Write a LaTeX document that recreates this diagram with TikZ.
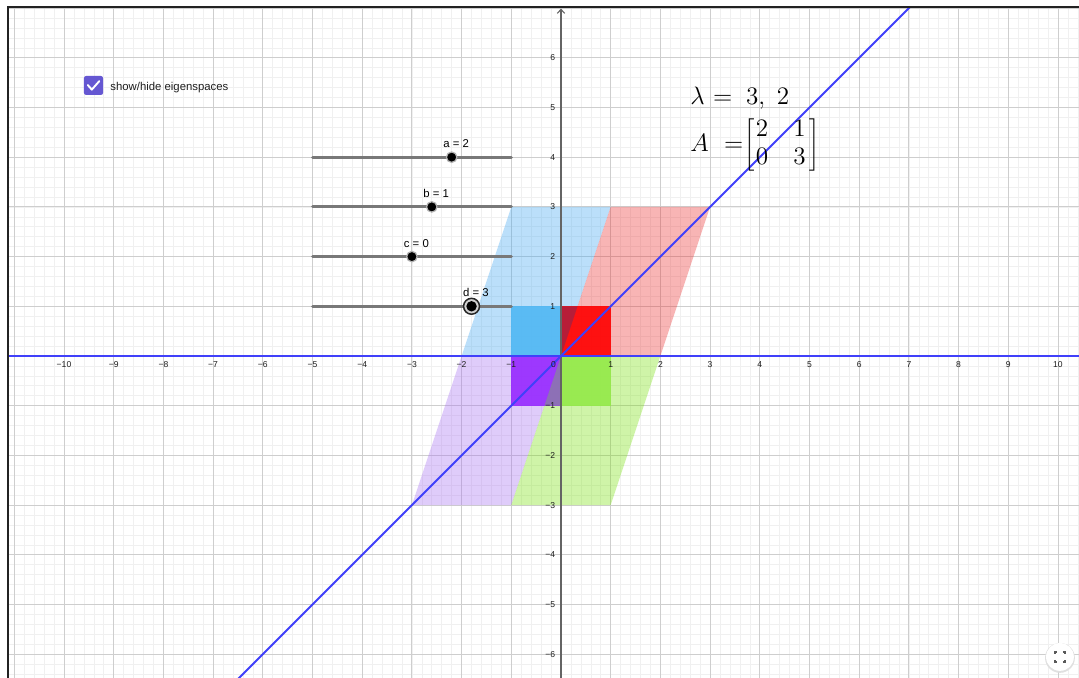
\documentclass[tikz,border=0pt]{standalone}
\usepackage{fontspec}
\newfontfamily\ggb{Liberation Sans}
\usetikzlibrary{arrows.meta}
\definecolor{gridminor}{RGB}{240,240,240}
\definecolor{gridmajor}{RGB}{206,206,206}
\definecolor{eigblue}{RGB}{64,64,250}
\definecolor{pblue}{RGB}{61,166,241}
\definecolor{pred}{RGB}{235,44,44}
\definecolor{ppurple}{RGB}{166,109,241}
\definecolor{pgreen}{RGB}{118,226,6}
\definecolor{sblue}{RGB}{80,184,244}
\definecolor{sred}{RGB}{255,0,0}
\definecolor{spurple}{RGB}{150,40,255}
\definecolor{sgreen}{RGB}{148,234,72}
\definecolor{tdark}{RGB}{176,30,60}
\definecolor{tgray}{RGB}{140,118,176}
\definecolor{slidergray}{RGB}{120,120,120}
\definecolor{ggbpurple}{RGB}{101,87,210}
\definecolor{framecol}{RGB}{34,34,34}
\definecolor{axiscol}{RGB}{100,100,100}
\definecolor{labcol}{RGB}{30,30,30}
\begin{document}
\begin{tikzpicture}[
  minorgrid/.style={draw=gridminor, line width=0.35pt},
  majorgrid/.style={draw=gridmajor, line width=0.55pt},
  para/.style={fill opacity=0.35},
  sq/.style={fill opacity=0.9},
  eig/.style={draw=eigblue, line width=1.05pt},
  yaxis/.style={draw=axiscol, line width=0.6pt, -{Straight Barb[length=2.3pt,width=4.2pt]}},
  frameline/.style={draw=framecol, line width=1.2pt},
  xtick/.style={font=\ggb\fontsize{4.9}{5.5}\selectfont, text=labcol, inner sep=0pt, anchor=center},
  ytick/.style={font=\ggb\fontsize{4.9}{5.5}\selectfont, text=labcol, inner sep=0pt, anchor=east},
  sliderline/.style={draw=slidergray, line width=1.7pt, line cap=round},
  sliderpt/.style={circle, fill=black, draw=black!30, line width=0.7pt, minimum size=0.21cm, inner sep=0pt},
  sliderlab/.style={font=\ggb\fontsize{6.5}{7}\selectfont, text=black, inner sep=0pt},
  mathlab/.style={anchor=base west, inner sep=0pt, font=\fontsize{14}{16.3}\selectfont}
]
\useasboundingbox (-11.288,-6.479) rectangle (10.423,7.163);
\fill[white] (-11.288,-6.479) rectangle (10.423,7.163);
\begin{scope}
\clip (-11.121,-6.479) rectangle (10.423,7.016);
\draw[minorgrid] (-11.2,-6.6) grid[step=0.2] (10.6,7.2);
\draw[majorgrid] (-12,-7) grid[step=1] (11,8);
% images of the unit squares
\fill[pblue,para] (0,0) -- (-2,0) -- (-1,3) -- (1,3) -- cycle;
\fill[pred,para] (0,0) -- (2,0) -- (3,3) -- (1,3) -- cycle;
\fill[ppurple,para] (0,0) -- (-2,0) -- (-3,-3) -- (-1,-3) -- cycle;
\fill[pgreen,para] (0,0) -- (2,0) -- (1,-3) -- (-1,-3) -- cycle;
% unit squares
\fill[sblue,sq] (-1,0) rectangle (0,1);
\fill[sred,sq] (0,0) rectangle (1,1);
\fill[spurple,sq] (-1,-1) rectangle (0,0);
\fill[sgreen,sq] (0,-1) rectangle (1,0);
\fill[tdark,sq] (0,0) -- (0,1) -- (1/3,1) -- cycle;
\fill[tgray,sq] (0,0) -- (0,-1) -- (-1/3,-1) -- cycle;
% axes and eigenspaces
\draw[yaxis] (0,-6.479) -- (0,6.99);
\draw[eig] (-11.2,0) -- (10.6,0);
\draw[eig] (-6.6,-6.6) -- (7.2,7.2);
\end{scope}
\draw[frameline] (-11.121,-6.479) -- (-11.121,7.016) -- (10.423,7.016);
% tick labels
\foreach \i in {1,...,10} {
  \node[xtick] at (\i,-0.17) {\i};
  \node[xtick] at (-\i,-0.17) {−\i};
}
\foreach \i in {1,...,6} {
  \node[ytick] at (-0.11,\i) {\i};
  \node[ytick] at (-0.11,-\i) {−\i};
}
\node[xtick] (orig) at (-0.15,-0.17) {0};
% checkbox
\fill[ggbpurple, rounded corners=1.2pt] (-9.598,5.252) rectangle (-9.215,5.634);
\draw[white, line width=1.1pt, line cap=round, line join=round] (-9.52,5.45) -- (-9.44,5.36) -- (-9.29,5.53);
\node[sliderlab, anchor=west, text=labcol] (cbtext) at (-9.074,5.405) {show/hide eigenspaces};
% sliders
\foreach \n/\y in {a/4,b/3,c/2,d/1} {
  \coordinate (\n L) at (-5,\y);
  \coordinate (\n R) at (-1,\y);
  \draw[sliderline] (\n L) -- (\n R);
}
\node[sliderpt] (pa) at (-2.2,4) {};
\node[sliderpt] (pb) at (-2.6,3) {};
\node[sliderpt] (pc) at (-3.0,2) {};
\fill[black!18] (-1.8,1) circle (0.165);
\draw[black!85, line width=0.85pt] (-1.8,1) circle (0.16);
\node[sliderpt, draw=none] (pd) at (-1.8,1) {};
\node[sliderlab] (la) at (-2.11,4.27) {a = 2};
\node[sliderlab] (lb) at (-2.51,3.27) {b = 1};
\node[sliderlab] (lc) at (-2.91,2.27) {c = 0};
\node[sliderlab] (ld) at (-1.71,1.27) {d = 3};
% formulas
\node[mathlab] (lam) at (2.596,5.06) {$\lambda\mskip1mu =\hspace{0.28em}3,\hspace{0.3em}2$};
\node[mathlab] (mat) at (2.596,4.12) {$A\mskip6mu =\mskip-4mu {\arraycolsep=0pt\renewcommand{\arraystretch}{1.0}\left[\begin{array}{@{\hspace{0.5pt}}l@{\hspace{1.03em}}r@{\hspace{2.3pt}}} 2 & 1\\ 0 & 3\end{array}\right]}$};
% fullscreen button
\fill[black!12] (10.04,-6.075) circle (0.3);
\fill[white] (10.04,-6.056) circle (0.28);
\begin{scope}[draw=black!65, line width=0.7pt]
\draw (9.94,-5.996) -- (9.94,-5.956) -- (9.98,-5.956);
\draw (10.10,-5.956) -- (10.14,-5.956) -- (10.14,-5.996);
\draw (9.94,-6.116) -- (9.94,-6.156) -- (9.98,-6.156);
\draw (10.10,-6.156) -- (10.14,-6.156) -- (10.14,-6.116);
\end{scope}
\end{tikzpicture}
\end{document}
